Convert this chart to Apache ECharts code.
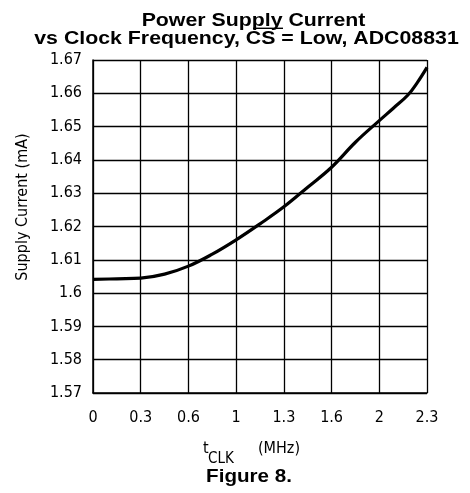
<!DOCTYPE html>
<html><head><meta charset="utf-8">
<script src="https://cdn.jsdelivr.net/npm/echarts@6/dist/echarts.min.js"></script>
<style>html,body{margin:0;padding:0;background:#fff}#c{width:470px;height:493px}</style>
</head><body><div id="c"></div>
<script>
// x tick labels (evenly spaced on the original plot)
const xTickLabels = ['0', '0.3', '0.6', '1', '1.3', '1.6', '2', '2.3'];
// curve positions along the tick grid (0 = first tick, 7 = last tick)
const clkPos = [0, 0.5, 1, 1.5, 2, 2.5, 3, 3.5, 4, 4.5, 5, 5.5, 6, 6.3, 6.6, 6.8, 7];
// supply current (mA)
const supplyCurrent = [1.6041, 1.6043, 1.6045, 1.6057, 1.6081, 1.6117, 1.616, 1.6208, 1.6259, 1.6318, 1.6378, 1.6453, 1.6518, 1.6556, 1.6595, 1.6633, 1.6678];
const yMin = 1.57, yMax = 1.67, yStep = 0.01;

const tickFont = '"DejaVu Sans Condensed", "Liberation Sans", sans-serif';
const boldFont = '"Liberation Sans", Arial, sans-serif';
const chart = echarts.init(document.getElementById('c'), null, {renderer: 'canvas'});
chart.setOption({
  animation: false,
  backgroundColor: '#fff',
  grid: {left: 93, right: 43, top: 60, bottom: 100},
  xAxis: {
    type: 'value', min: 0, max: xTickLabels.length - 1, interval: 1,
    axisLine: {show: true, onZero: false, lineStyle: {color: '#000', width: 1.5}},
    axisTick: {show: false},
    splitLine: {show: true, lineStyle: {color: '#000', width: 1.3}},
    axisLabel: {margin: 17, color: '#000', fontSize: 16, fontFamily: tickFont,
      formatter: v => xTickLabels[Math.round(v)] ?? ''}
  },
  yAxis: {
    type: 'value', min: yMin, max: yMax, interval: yStep,
    axisLine: {show: true, lineStyle: {color: '#000', width: 1.5}},
    axisTick: {show: false},
    splitLine: {show: true, lineStyle: {color: '#000', width: 1.3}},
    axisLabel: {margin: 11, color: '#000', fontSize: 16, fontFamily: tickFont,
      formatter: v => String(+v.toFixed(2))}
  },
  graphic: [
    {type: 'text', x: 253.5, y: 21, scaleX: 1.14,
     style: {text: 'Power Supply Current', x: 0, y: 0, align: 'center', verticalAlign: 'middle',
       fill: '#000', font: 'bold 18.7px ' + boldFont}},
    {type: 'text', x: 246.5, y: 38.7, scaleX: 1.14,
     style: {text: 'vs Clock Frequency, CS = Low, ADC08831', x: 0, y: 0, align: 'center', verticalAlign: 'middle',
       fill: '#000', font: 'bold 18.7px ' + boldFont}},
    // overline over "CS"
    {type: 'line', shape: {x1: 253, y1: 28.3, x2: 283, y2: 28.3}, style: {stroke: '#000', lineWidth: 1.4}},
    {type: 'text', x: 249, y: 477, scaleX: 1.17,
     style: {text: 'Figure 8.', x: 0, y: 0, align: 'center', verticalAlign: 'middle',
       fill: '#000', font: 'bold 17.6px ' + boldFont}},
    {type: 'text', x: 23, y: 207, rotation: Math.PI / 2,
     style: {text: 'Supply Current (mA)', x: 0, y: 0, align: 'center', verticalAlign: 'middle',
       fill: '#000', font: '16px ' + tickFont}},
    {type: 'text', x: 203, y: 449,
     style: {text: 't', x: 0, y: 0, align: 'left', verticalAlign: 'middle', fill: '#000', font: '16px ' + tickFont}},
    {type: 'text', x: 208, y: 459.5,
     style: {text: 'CLK', x: 0, y: 0, align: 'left', verticalAlign: 'middle', fill: '#000', font: '15px ' + tickFont}},
    {type: 'text', x: 258, y: 448.5,
     style: {text: '(MHz)', x: 0, y: 0, align: 'left', verticalAlign: 'middle', fill: '#000', font: '16px ' + tickFont}}
  ],
  series: [{
    type: 'line', smooth: 0.4, symbol: 'none',
    lineStyle: {color: '#000', width: 3.2},
    data: clkPos.map((x, i) => [x, supplyCurrent[i]])
  }]
});
</script></body></html>
